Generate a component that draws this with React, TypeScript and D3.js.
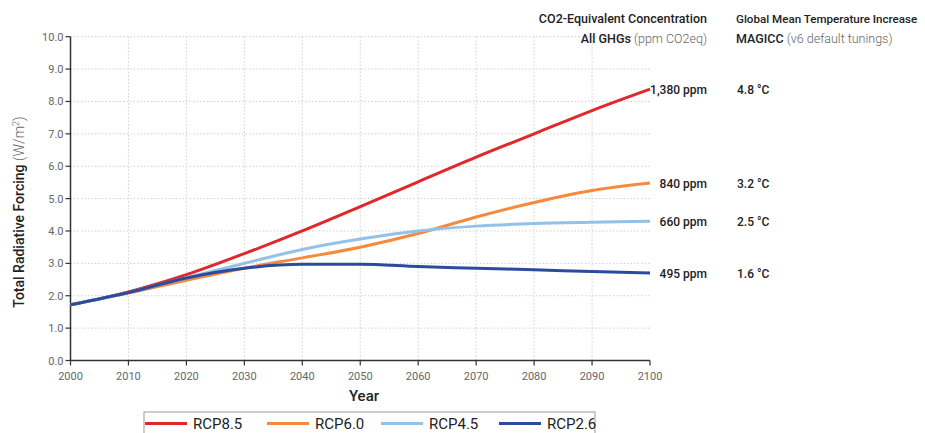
import React from 'react';
import { scaleLinear, line, curveMonotoneX } from 'd3';

const years = [2000, 2010, 2020, 2030, 2040, 2050, 2060, 2070, 2080, 2090, 2100];
const rcp85 = [1.72, 2.12, 2.65, 3.3, 4.0, 4.75, 5.52, 6.28, 7.0, 7.72, 8.38];
const rcp60 = [1.72, 2.08, 2.48, 2.85, 3.17, 3.5, 3.92, 4.43, 4.88, 5.25, 5.48];
const rcp45 = [1.72, 2.1, 2.56, 3.0, 3.43, 3.75, 4.0, 4.15, 4.23, 4.27, 4.3];
const rcp26 = [1.72, 2.1, 2.55, 2.85, 2.97, 2.97, 2.9, 2.85, 2.8, 2.75, 2.7];
const yTicks = [0, 1, 2, 3, 4, 5, 6, 7, 8, 9, 10];
const seriesNames = ['RCP8.5', 'RCP6.0', 'RCP4.5', 'RCP2.6'];
const concLabels = ['1,380 ppm', '840 ppm', '660 ppm', '495 ppm'];
const tempLabels = ['4.8 °C', '3.2 °C', '2.5 °C', '1.6 °C'];

const colors = ['#e2272a', '#f58a3c', '#92c1ea', '#2b4b9c'];
const allSeries = [rcp85, rcp60, rcp45, rcp26];
const font = 'Roboto, "DejaVu Sans", sans-serif';

export default function App() {
  const x = scaleLinear().domain([2000, 2100]).range([70.5, 650]);
  const y = scaleLinear().domain([0, 10]).range([360.5, 36.7]);

  const path = (vals: number[]) =>
    line<number>()
      .x((_, i) => x(years[i]))
      .y(d => y(d))
      .curve(curveMonotoneX)(vals) || '';

  const legendX = [145, 267, 381, 499];

  return (
    <div style={{ position: 'fixed', left: 0, top: 0 }}>
      <svg width={925} height={433} style={{ fontFamily: font, display: 'block' }}>
        <rect width={925} height={433} fill="#fff" />
        {/* grid */}
        {years.slice(1, -1).map(t => (
          <line key={'gx' + t} x1={x(t)} x2={x(t)} y1={y(10)} y2={y(0)} stroke="#cfcfcf" strokeDasharray="1.5,2" />
        ))}
        {yTicks.slice(1).map(t => (
          <line key={'gy' + t} x1={x(2000)} x2={x(2100)} y1={y(t)} y2={y(t)} stroke="#cfcfcf" strokeDasharray="1.5,2" />
        ))}
        {/* axes */}
        <line x1={x(2000)} x2={x(2000)} y1={y(10)} y2={y(0)} stroke="#333" strokeWidth={1.5} />
        <line x1={x(2000)} x2={x(2100)} y1={y(0)} y2={y(0)} stroke="#333" strokeWidth={1.5} />
        {yTicks.map(t => (
          <g key={'yt' + t}>
            <line x1={x(2000) - 5} x2={x(2000)} y1={y(t)} y2={y(t)} stroke="#333" strokeWidth={1.2} />
            <text x={x(2000) - 7} y={y(t) + 4} textAnchor="end" fontSize={11} fill="#666">
              {t.toFixed(1)}
            </text>
          </g>
        ))}
        {years.map(t => (
          <g key={'xt' + t}>
            <line x1={x(t)} x2={x(t)} y1={y(0)} y2={y(0) + 5} stroke="#333" strokeWidth={1.2} />
            <text x={x(t)} y={y(0) + 19} textAnchor="middle" fontSize={11} fill="#666">
              {t}
            </text>
          </g>
        ))}
        <text x={364} y={401} textAnchor="middle" fontSize={15} fontWeight={500} fill="#222">Year</text>
        <text transform="translate(24,212) rotate(-90)" textAnchor="middle" fontSize={14} fontWeight={500} fill="#222">
          Total Radiative Forcing <tspan fontWeight={300} fill="#666">(W/m</tspan>
          <tspan fontWeight={300} fill="#666" fontSize={9} dy={-5}>2</tspan>
          <tspan fontWeight={300} fill="#666" dy={5}>)</tspan>
        </text>
        {/* series */}
        {allSeries.map((s, i) => (
          <path key={seriesNames[i]} d={path(s)} fill="none" stroke={colors[i]} strokeWidth={3} />
        ))}
        {/* right annotations */}
        <text x={707} y={23} textAnchor="end" fontSize={12.5} fontWeight={500} fill="#222">CO2-Equivalent Concentration</text>
        <text x={707} y={43} textAnchor="end" fontSize={12.5} fontWeight={500} fill="#222">
          All GHGs <tspan fontWeight={300} fill="#666">(ppm CO2eq)</tspan>
        </text>
        <text x={736} y={23} fontSize={11.6} fontWeight={500} fill="#222">
          Global Mean Temperature Increase
        </text>
        <text x={736} y={43} fontSize={12.5} fontWeight={500} fill="#222">
          MAGICC <tspan fontWeight={300} fill="#666">(v6 default tunings)</tspan>
        </text>
        {allSeries.map((s, i) => (
          <g key={'lab' + i}>
            <text x={707} y={y(s[s.length - 1]) + 4.5} textAnchor="end" fontSize={12} fontWeight={500} fill="#222">
              {concLabels[i]}
            </text>
            <text x={737} y={y(s[s.length - 1]) + 4.5} fontSize={12} fontWeight={500} fill="#222">
              {tempLabels[i]}
            </text>
          </g>
        ))}
        {/* legend */}
        <rect x={144} y={412} width={451} height={30} fill="#fff" stroke="#999" strokeWidth={1} />
        {seriesNames.map((n, i) => (
          <g key={'leg' + n}>
            <line x1={legendX[i]} x2={legendX[i] + 42} y1={423.5} y2={423.5} stroke={colors[i]} strokeWidth={3} />
            <text x={legendX[i] + 48} y={429} fontSize={15} fill="#222">{n}</text>
          </g>
        ))}
      </svg>
    </div>
  );
}
